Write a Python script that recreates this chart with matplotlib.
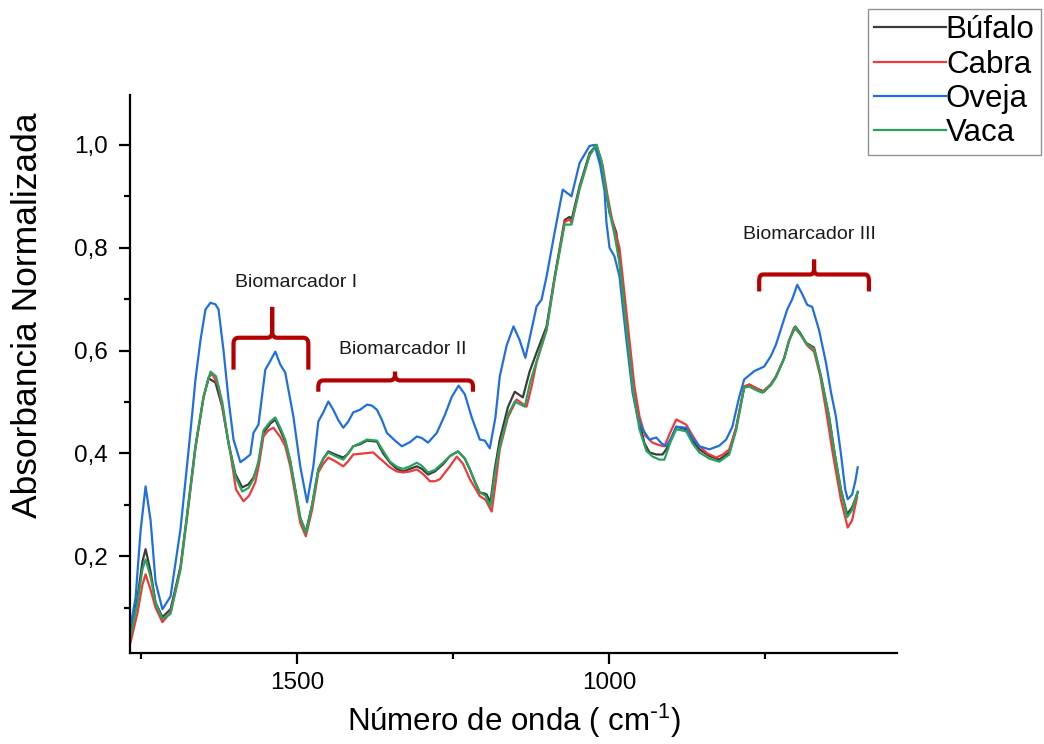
import numpy as np
import matplotlib
matplotlib.use("Agg")
import matplotlib.pyplot as plt
from matplotlib.path import Path
from matplotlib.patches import PathPatch
from matplotlib.ticker import MultipleLocator, FuncFormatter

plt.rcParams['font.family'] = ['Liberation Sans', 'DejaVu Sans']
plt.rcParams['mathtext.default'] = 'regular'

# --- espectros FTIR normalizados (número de onda em cm-1, absorbância) ---
wn_bufalo = [1767, 1756, 1748, 1743, 1735, 1727, 1716, 1703, 1687, 1676, 1663, 1650, 1642, 1631, 1620,
             1610, 1599, 1588, 1578, 1570, 1562, 1554, 1543, 1535, 1527, 1519, 1511, 1503, 1495, 1486,
             1476, 1466, 1458, 1450, 1439, 1426, 1418, 1410, 1399, 1388, 1372, 1362, 1351, 1340, 1330,
             1319, 1308, 1300, 1290, 1279, 1266, 1255, 1242, 1231, 1223, 1215, 1207, 1199, 1196, 1190,
             1183, 1175, 1162, 1151, 1138, 1127, 1116, 1100, 1087, 1071, 1063, 1060, 1047, 1031, 1020,
             1014, 1007, 999, 988, 980, 970, 961, 951, 943, 935, 924, 914, 908, 900, 892,
             876, 866, 855, 839, 823, 807, 796, 783, 775, 764, 751, 740, 732, 719, 711,
             701, 692, 684, 671, 660, 647, 638, 628, 618, 610, 601]
abs_bufalo = [0.049, 0.12, 0.19, 0.214, 0.17, 0.11, 0.082, 0.097, 0.18, 0.285, 0.414, 0.51, 0.546, 0.538, 0.49,
              0.42, 0.36, 0.334, 0.34, 0.353, 0.38, 0.44, 0.458, 0.466, 0.445, 0.423, 0.385, 0.33, 0.275, 0.247,
              0.30, 0.369, 0.39, 0.404, 0.398, 0.392, 0.40, 0.414, 0.418, 0.425, 0.423, 0.40, 0.382, 0.37, 0.365,
              0.37, 0.375, 0.37, 0.359, 0.365, 0.379, 0.395, 0.404, 0.39, 0.369, 0.345, 0.324, 0.322, 0.32, 0.305,
              0.37, 0.427, 0.49, 0.52, 0.509, 0.56, 0.596, 0.647, 0.744, 0.854, 0.86, 0.854, 0.92, 0.984, 1.0,
              0.97, 0.926, 0.868, 0.829, 0.74, 0.621, 0.52, 0.46, 0.42, 0.402, 0.398, 0.398, 0.408, 0.43, 0.452,
              0.447, 0.425, 0.408, 0.395, 0.388, 0.402, 0.45, 0.53, 0.534, 0.527, 0.52, 0.535, 0.55, 0.585, 0.62,
              0.647, 0.632, 0.615, 0.606, 0.55, 0.472, 0.40, 0.33, 0.282, 0.295, 0.324]

wn_cabra = [1767, 1756, 1748, 1743, 1735, 1727, 1716, 1703, 1687, 1676, 1663, 1650, 1642, 1636, 1626,
            1617, 1607, 1598, 1586, 1577, 1567, 1561, 1554, 1546, 1538, 1527, 1519, 1511, 1503, 1495,
            1486, 1476, 1466, 1458, 1450, 1439, 1426, 1418, 1410, 1394, 1378, 1367, 1351, 1340, 1330,
            1319, 1308, 1298, 1287, 1279, 1271, 1255, 1244, 1234, 1223, 1207, 1198, 1188, 1182, 1175,
            1162, 1148, 1132, 1124, 1116, 1100, 1087, 1071, 1063, 1060, 1047, 1031, 1020, 1010, 1002,
            994, 983, 978, 967, 959, 951, 942, 930, 919, 911, 902, 892, 876, 866, 855,
            842, 828, 817, 807, 796, 783, 775, 764, 754, 740, 732, 719, 711, 703, 692,
            682, 671, 661, 652, 641, 628, 617, 610, 602]
abs_cabra = [0.033, 0.09, 0.145, 0.165, 0.135, 0.10, 0.072, 0.091, 0.175, 0.28, 0.41, 0.51, 0.548, 0.555, 0.53,
             0.47, 0.40, 0.33, 0.307, 0.318, 0.344, 0.38, 0.433, 0.445, 0.45, 0.432, 0.414, 0.375, 0.32, 0.265,
             0.239, 0.29, 0.363, 0.38, 0.392, 0.385, 0.375, 0.385, 0.398, 0.40, 0.402, 0.39, 0.373, 0.365, 0.363,
             0.365, 0.369, 0.36, 0.346, 0.346, 0.35, 0.375, 0.394, 0.38, 0.35, 0.317, 0.31, 0.287, 0.34, 0.408,
             0.47, 0.505, 0.491, 0.53, 0.577, 0.64, 0.74, 0.85, 0.855, 0.848, 0.915, 0.98, 1.0, 0.96, 0.9,
             0.849, 0.8, 0.744, 0.62, 0.53, 0.472, 0.435, 0.421, 0.416, 0.414, 0.44, 0.466, 0.456, 0.435, 0.414,
             0.40, 0.392, 0.398, 0.408, 0.45, 0.53, 0.534, 0.527, 0.52, 0.535, 0.55, 0.585, 0.62, 0.645, 0.63,
             0.61, 0.598, 0.55, 0.485, 0.40, 0.31, 0.256, 0.27, 0.315]

wn_oveja = [1767, 1759, 1751, 1743, 1735, 1727, 1716, 1703, 1687, 1676, 1668, 1663, 1655, 1647, 1639,
            1631, 1626, 1618, 1610, 1602, 1591, 1583, 1575, 1570, 1562, 1551, 1543, 1535, 1527, 1519,
            1506, 1495, 1484, 1474, 1466, 1458, 1450, 1442, 1434, 1426, 1418, 1410, 1399, 1388, 1380,
            1372, 1364, 1356, 1343, 1332, 1319, 1308, 1300, 1290, 1276, 1263, 1252, 1241, 1231, 1220,
            1207, 1199, 1191, 1182, 1175, 1164, 1153, 1143, 1134, 1126, 1116, 1108, 1100, 1087, 1074,
            1060, 1047, 1031, 1023, 1014, 1007, 1004, 999, 991, 983, 972, 962, 954, 946, 935,
            924, 916, 908, 900, 892, 876, 866, 855, 839, 823, 812, 802, 791, 783, 767,
            751, 740, 732, 722, 714, 706, 698, 690, 682, 674, 663, 652, 644, 636, 628,
            621, 617, 610, 605, 601]
abs_oveja = [0.064, 0.12, 0.25, 0.336, 0.27, 0.15, 0.097, 0.122, 0.253, 0.383, 0.48, 0.544, 0.62, 0.68, 0.693,
             0.69, 0.68, 0.60, 0.505, 0.427, 0.383, 0.39, 0.398, 0.44, 0.456, 0.563, 0.58, 0.598, 0.573, 0.557,
             0.472, 0.375, 0.305, 0.375, 0.462, 0.48, 0.501, 0.485, 0.465, 0.45, 0.462, 0.48, 0.485, 0.495, 0.493,
             0.485, 0.465, 0.44, 0.425, 0.414, 0.422, 0.433, 0.43, 0.421, 0.44, 0.475, 0.51, 0.532, 0.515, 0.47,
             0.427, 0.425, 0.41, 0.47, 0.55, 0.61, 0.647, 0.62, 0.586, 0.63, 0.686, 0.699, 0.744, 0.83, 0.913,
             0.9, 0.965, 0.998, 1.0, 0.96, 0.91, 0.85, 0.80, 0.783, 0.744, 0.621, 0.518, 0.47, 0.447, 0.427,
             0.431, 0.42, 0.414, 0.43, 0.452, 0.45, 0.43, 0.414, 0.408, 0.415, 0.427, 0.452, 0.51, 0.544, 0.56,
             0.569, 0.59, 0.612, 0.65, 0.68, 0.70, 0.728, 0.71, 0.689, 0.685, 0.64, 0.577, 0.52, 0.472, 0.40,
             0.33, 0.311, 0.32, 0.345, 0.373]

wn_vaca = [1767, 1756, 1748, 1743, 1735, 1727, 1716, 1703, 1687, 1676, 1663, 1650, 1639, 1630, 1620,
           1610, 1599, 1588, 1578, 1570, 1562, 1554, 1543, 1535, 1527, 1519, 1511, 1503, 1495, 1486,
           1476, 1466, 1458, 1450, 1439, 1426, 1418, 1410, 1399, 1388, 1372, 1362, 1351, 1340, 1330,
           1319, 1308, 1300, 1290, 1279, 1266, 1255, 1242, 1231, 1223, 1215, 1207, 1198, 1190, 1183,
           1175, 1162, 1151, 1135, 1126, 1116, 1100, 1087, 1071, 1060, 1047, 1031, 1020, 1012, 1006,
           999, 991, 983, 970, 961, 951, 940, 930, 919, 911, 902, 892, 876, 866, 855,
           839, 823, 807, 796, 783, 775, 764, 754, 740, 732, 719, 711, 701, 692, 682,
           671, 660, 647, 638, 628, 618, 610, 601]
abs_vaca = [0.045, 0.11, 0.175, 0.194, 0.16, 0.11, 0.078, 0.088, 0.175, 0.285, 0.414, 0.51, 0.559, 0.55, 0.50,
            0.42, 0.355, 0.326, 0.333, 0.35, 0.385, 0.445, 0.462, 0.47, 0.45, 0.427, 0.385, 0.33, 0.275, 0.245,
            0.30, 0.369, 0.39, 0.402, 0.395, 0.388, 0.40, 0.414, 0.42, 0.427, 0.425, 0.405, 0.384, 0.374, 0.37,
            0.375, 0.382, 0.376, 0.363, 0.368, 0.382, 0.395, 0.404, 0.39, 0.369, 0.345, 0.324, 0.318, 0.297, 0.36,
            0.414, 0.475, 0.501, 0.491, 0.54, 0.579, 0.64, 0.74, 0.845, 0.845, 0.915, 0.98, 1.0, 0.97, 0.92,
            0.87, 0.825, 0.77, 0.621, 0.52, 0.447, 0.405, 0.394, 0.388, 0.388, 0.42, 0.447, 0.443, 0.42, 0.402,
            0.39, 0.384, 0.398, 0.445, 0.528, 0.53, 0.523, 0.518, 0.533, 0.548, 0.585, 0.62, 0.646, 0.63, 0.612,
            0.604, 0.55, 0.472, 0.40, 0.33, 0.276, 0.29, 0.326]

series_names = ['Búfalo', 'Cabra', 'Oveja', 'Vaca']
series_colors = ['#3c3c3c', '#ee3a3a', '#1f6fe0', '#27a35c']

# regiões dos biomarcadores: (inicio, fim, centro) em cm-1 e altura da chave
bio_labels = ['Biomarcador I', 'Biomarcador II', 'Biomarcador III']
bio_start = [1602, 1466, 759]
bio_end = [1482, 1218, 583]
bio_center = [1540, 1343, 671]
bio_level = [0.625, 0.542, 0.748]
bio_drop = [0.062, 0.022, 0.033]
bio_tip = [0.06, 0.017, 0.029]
bio_text_x = [1502, 1330, 678]
bio_text_y = [0.732, 0.602, 0.825]


def half_brace(ax, x_end, x_mid, y, drop, tip, rx, ry, color):
    """Meia chave: sai da ponta inferior, faz a curva, segue na horizontal e sobe até o bico."""
    s = np.sign(x_mid - x_end)
    verts = [(x_end, y - drop), (x_end, y - ry), (x_end, y), (x_end + s * rx, y),
             (x_mid - s * rx, y), (x_mid, y), (x_mid, y + ry), (x_mid, y + tip)]
    codes = [Path.MOVETO, Path.LINETO, Path.CURVE3, Path.CURVE3,
             Path.LINETO, Path.CURVE3, Path.CURVE3, Path.LINETO]
    ax.add_patch(PathPatch(Path(verts, codes), fill=False, edgecolor=color,
                           linewidth=3.0, capstyle='butt', joinstyle='round'))


fig = plt.figure(figsize=(10.44, 7.44), dpi=100)
ax = fig.add_axes([130 / 1044, 1 - 653 / 744, 767 / 1044, 558 / 744])

data = [(wn_bufalo, abs_bufalo), (wn_cabra, abs_cabra), (wn_oveja, abs_oveja), (wn_vaca, abs_vaca)]
for (wn, ab), name, col in zip(data, series_names, series_colors):
    ax.plot(wn, ab, color=col, lw=1.6, label=name, solid_joinstyle='round')

brace_color = '#b40000'
for i in range(len(bio_labels)):
    rx = 8 if i != 2 else 6
    ry = 0.012
    half_brace(ax, bio_start[i], bio_center[i], bio_level[i], bio_drop[i], bio_tip[i], rx, ry, brace_color)
    half_brace(ax, bio_end[i], bio_center[i], bio_level[i], bio_drop[i], bio_tip[i], rx, ry, brace_color)
    ax.text(bio_text_x[i], bio_text_y[i], bio_labels[i], fontsize=14, color='#1a1a1a',
            ha='center', va='center')

ax.set_xlim(1768, 538)
ax.set_ylim(0.012, 1.097)

ax.xaxis.set_major_locator(MultipleLocator(500))
ax.xaxis.set_minor_locator(MultipleLocator(250))
ax.yaxis.set_major_locator(MultipleLocator(0.2))
ax.yaxis.set_minor_locator(MultipleLocator(0.1))
ax.yaxis.set_major_formatter(FuncFormatter(lambda v, p: f'{v:.1f}'.replace('.', ',')))
ax.xaxis.set_major_formatter(FuncFormatter(lambda v, p: f'{v:.0f}'))

for side in ['top', 'right']:
    ax.spines[side].set_visible(False)
for side in ['left', 'bottom']:
    ax.spines[side].set_linewidth(1.6)

ax.tick_params(which='major', direction='out', length=8, width=1.6, labelsize=17.5)
ax.tick_params(axis='y', which='major', pad=8)
ax.tick_params(axis='x', which='major', pad=6)
ax.tick_params(which='minor', direction='out', length=4, width=1.6)

ax.set_xlabel(r'Número de onda ( cm$^{\text{-}1}$)', fontsize=22.5)
ax.xaxis.set_label_coords(0.5, -0.088)
ax.set_ylabel('Absorbancia Normalizada', fontsize=25.5)
ax.yaxis.set_label_coords(-0.112, 0.606)

leg = fig.legend(loc='upper right', bbox_to_anchor=(1041 / 1044, 1 - 9 / 744), fontsize=22.5,
                 handlelength=2.3, handletextpad=0.0, labelspacing=0.14, borderpad=0.2,
                 borderaxespad=0, fancybox=False, frameon=True)
leg.get_frame().set_edgecolor('#777777')
leg.get_frame().set_linewidth(1.0)

fig.savefig('out.png', dpi=100)
